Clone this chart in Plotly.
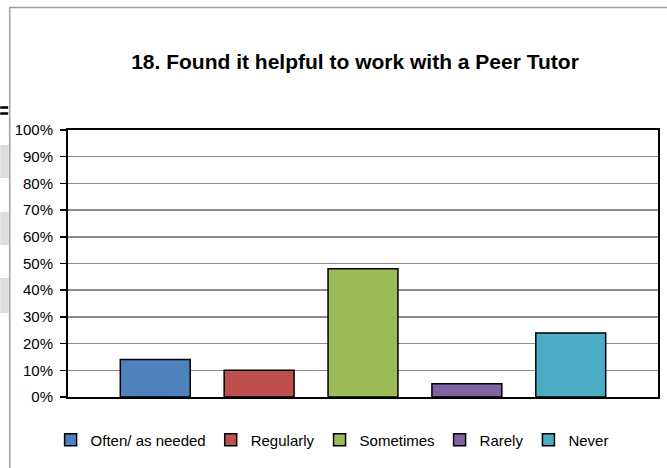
import plotly.graph_objects as go

categories = ["Often/ as needed", "Regularly", "Sometimes", "Rarely", "Never"]
values = [14, 10, 48, 5, 24]
colors = ["#4F81BD", "#C0504D", "#9BBB59", "#8064A2", "#4BACC6"]
tick_vals = [0, 10, 20, 30, 40, 50, 60, 70, 80, 90, 100]
tick_text = [f"{v}%" for v in tick_vals]
title_text = "18. Found it helpful to work with a Peer Tutor"

W, H = 667, 468
L, R, T, B = 68, 660, 130, 397  # plot area pixel edges

fig = go.Figure()
for cat, val, col in zip(categories, values, colors):
    fig.add_trace(go.Bar(
        x=[cat], y=[val], name=cat,
        marker=dict(color=col, line=dict(color="black", width=1.5)),
        hoverinfo="skip",
    ))

def px_x(p):
    return (p - L) / (R - L)

def px_y(p):
    return (B - p) / (B - T)

shapes = []
# outer chart border (gray), extends beyond window on right/bottom
shapes.append(dict(type="rect", xref="paper", yref="paper",
                   x0=px_x(9.5), x1=px_x(680), y0=px_y(7.5), y1=px_y(490),
                   line=dict(color="#A0A0A0", width=1.5), fillcolor="rgba(0,0,0,0)", layer="below"))
# gray blocks at left
for y0, y1 in [(145, 178), (212, 245), (278, 313)]:
    shapes.append(dict(type="rect", xref="paper", yref="paper",
                       x0=px_x(0), x1=px_x(8.5), y0=px_y(y0), y1=px_y(y1),
                       line=dict(width=0), fillcolor="#DCDCDC", layer="below"))
# "=" mark
for yy in [107.5, 113.5]:
    shapes.append(dict(type="line", xref="paper", yref="paper",
                       x0=px_x(0), x1=px_x(8), y0=px_y(yy), y1=px_y(yy),
                       line=dict(color="black", width=2.5)))

fig.update_layout(
    width=W, height=H,
    margin=dict(l=L, r=W - R, t=T, b=H - B, pad=0),
    paper_bgcolor="white", plot_bgcolor="white",
    font=dict(family="Liberation Sans, Arial, sans-serif", color="black", size=15),
    barmode="overlay", bargap=0.327,
    showlegend=True,
    title=dict(text="<b>" + title_text + "</b>", font=dict(size=21, color="black"),
               x=355 / W, xref="container", xanchor="center",
               y=1 - 62 / H, yref="container", yanchor="middle"),
    legend=dict(orientation="h", x=px_x(333), xanchor="center", y=px_y(440), yanchor="middle",
                font=dict(size=15), itemwidth=30, traceorder="normal", bgcolor="rgba(0,0,0,0)"),
    xaxis=dict(type="category", range=[-0.84, 4.84], showticklabels=False, ticks="",
               showgrid=False, showline=True, linecolor="black", linewidth=2, mirror=True,
               fixedrange=True),
    yaxis=dict(range=[0, 100], tickvals=tick_vals, ticktext=tick_text, ticks="outside",
               ticklen=6, tickcolor="black", tickwidth=1.5, showgrid=True, gridcolor="#8C8C8C",
               gridwidth=1.5, showline=True, linecolor="black", linewidth=2, mirror=True,
               tickfont=dict(size=15), ticklabelstandoff=4, zeroline=False, fixedrange=True),
    shapes=shapes,
)

fig.write_html("out.html", config={"displayModeBar": False, "staticPlot": True},
               post_script="document.body.style.margin='0';document.body.style.overflow='hidden';")
